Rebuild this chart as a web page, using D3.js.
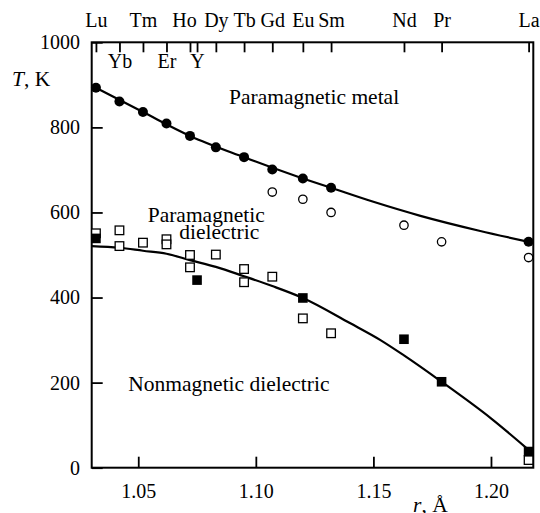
<!DOCTYPE html>
<html>
<head>
<meta charset="utf-8">
<script src="https://cdn.jsdelivr.net/npm/d3@7"></script>
<style>
  html, body { margin: 0; padding: 0; background: #fff; }
  svg { display: block; }
  svg text { font-family: "Liberation Serif", "Times New Roman", Times, serif !important; fill: #000; }
</style>
</head>
<body>
<script>
// Rare-earth elements and their ionic radii (Å), shown on the top axis
const elements = ["Lu","Yb","Tm","Er","Ho","Y","Dy","Tb","Gd","Eu","Sm","Nd","Pr","La"];
const radii    = [1.032,1.042,1.052,1.062,1.072,1.075,1.083,1.095,1.107,1.120,1.132,1.163,1.179,1.216];
const labelsBelow = ["Yb","Er","Y"];

// Metal–insulator transition temperatures (filled circles)
const miR = [1.032,1.042,1.052,1.062,1.072,1.083,1.095,1.107,1.120,1.132,1.216];
const miT = [893,861,836,809,780,753,730,701,680,658,531];

// Additional transition data (open circles)
const openCircR = [1.107,1.120,1.132,1.163,1.179,1.216];
const openCircT = [648,631,600,570,531,494];

// Spin-state transition data (filled squares)
const fillSqR = [1.032,1.075,1.120,1.163,1.179,1.216];
const fillSqT = [539,441,399,302,202,38];

// Spin-state transition data (open squares)
const openSqR = [1.032,1.042,1.042,1.052,1.062,1.062,1.072,1.072,1.083,1.095,1.095,1.107,1.120,1.132,1.216];
const openSqT = [551,558,521,529,537,525,500,471,501,467,436,449,351,316,18];

// Phase boundaries
const upperR = [1.032,1.052,1.072,1.095,1.120,1.132,1.150,1.170,1.195,1.216];
const upperT = [893,836,780,730,680,658,625,592,557,531];
const lowerR = [1.0302,1.042,1.052,1.062,1.072,1.083,1.095,1.107,1.120,1.140,1.153,1.163,1.179,1.200,1.216];
const lowerT = [521,517,510,503,488,472,450,427,399,340,300,264,202,116,42];

// Axis ticks
const xTicks = [1.05,1.10,1.15,1.20];
const yTicks = [0,200,400,600,800,1000];

const W = 540, H = 513;
const svg = d3.select("body").append("svg").attr("width", W).attr("height", H);

const x = d3.scaleLinear().domain([1.0302, 1.218]).range([91.7, 533.3]);
const y = d3.scaleLinear().domain([0, 1000]).range([467.7, 42.3]);

const tickFont = 20, textFont = 21.5;

// Bottom axis
const gx = svg.append("g").attr("transform", `translate(0,${y(0)})`)
  .call(d3.axisBottom(x).tickValues(xTicks).tickSize(-11).tickPadding(16).tickFormat(d3.format(".2f")));
// Left axis
const gy = svg.append("g").attr("transform", `translate(${x.range()[0]},0)`)
  .call(d3.axisLeft(y).tickValues(yTicks).tickSize(-11).tickPadding(11.7).tickFormat(d3.format("d")));
// Top axis with element names
const gt = svg.append("g").attr("transform", `translate(0,${y(1000)})`)
  .call(d3.axisTop(x).tickValues(radii).tickSize(-10).tickPadding(15.6).tickFormat((d, i) => elements[i]));

[gx, gy, gt].forEach(g => {
  g.attr("font-family", null).attr("font-size", tickFont);
  g.select(".domain").remove();
  g.selectAll(".tick line").attr("stroke", "#000").attr("stroke-width", 1.8);
  g.selectAll(".tick text").attr("fill", "#000");
});
gt.selectAll(".tick text").attr("dy", "0")
  .filter((d, i) => labelsBelow.includes(elements[i]))
  .attr("y", 25.7);
// Nudge "Ho" left so it clears its neighbour "Dy"
gt.selectAll(".tick text").filter((d, i) => elements[i] === "Ho").attr("dx", -6);

// Frame
svg.append("rect")
  .attr("x", x.range()[0]).attr("y", y(1000))
  .attr("width", x.range()[1] - x.range()[0]).attr("height", y(0) - y(1000))
  .attr("fill", "none").attr("stroke", "#000").attr("stroke-width", 2);

// Phase boundary curves
const line = d3.line().x(d => x(d[0])).y(d => y(d[1])).curve(d3.curveMonotoneX);
svg.append("path").datum(d3.zip(upperR, upperT)).attr("d", line)
  .attr("fill", "none").attr("stroke", "#000").attr("stroke-width", 2.2);
svg.append("path").datum(d3.zip(lowerR, lowerT)).attr("d", line)
  .attr("fill", "none").attr("stroke", "#000").attr("stroke-width", 2.2);

// Markers
svg.append("g").selectAll("rect").data(d3.zip(openSqR, openSqT)).join("rect")
  .attr("x", d => x(d[0]) - 4.3).attr("y", d => y(d[1]) - 4.3)
  .attr("width", 8.6).attr("height", 8.6)
  .attr("fill", "#fff").attr("stroke", "#000").attr("stroke-width", 1.3);
svg.append("g").selectAll("rect").data(d3.zip(fillSqR, fillSqT)).join("rect")
  .attr("x", d => x(d[0]) - 4.8).attr("y", d => y(d[1]) - 4.8)
  .attr("width", 9.6).attr("height", 9.6).attr("fill", "#000");
svg.append("g").selectAll("circle").data(d3.zip(openCircR, openCircT)).join("circle")
  .attr("cx", d => x(d[0])).attr("cy", d => y(d[1])).attr("r", 4.2)
  .attr("fill", "#fff").attr("stroke", "#000").attr("stroke-width", 1.3);
svg.append("g").selectAll("circle").data(d3.zip(miR, miT)).join("circle")
  .attr("cx", d => x(d[0])).attr("cy", d => y(d[1])).attr("r", 5)
  .attr("fill", "#000");

// Region labels
const txt = (s, px, py, size = textFont) =>
  svg.append("text").attr("x", px).attr("y", py).attr("font-size", size).text(s);
txt("Paramagnetic metal", 229, 103.5);
txt("Paramagnetic", 147.7, 222);
txt("dielectric", 179.3, 238.5);
txt("Nonmagnetic dielectric", 128.3, 390.5);

// Axis titles
const tT = svg.append("text").attr("x", 12).attr("y", 86).attr("font-size", textFont);
tT.append("tspan").attr("font-style", "italic").text("T");
tT.append("tspan").text(", K");
const tR = svg.append("text").attr("x", 413).attr("y", 512).attr("font-size", textFont);
tR.append("tspan").attr("font-style", "italic").text("r");
tR.append("tspan").text(", Å");
</script>
</body>
</html>
